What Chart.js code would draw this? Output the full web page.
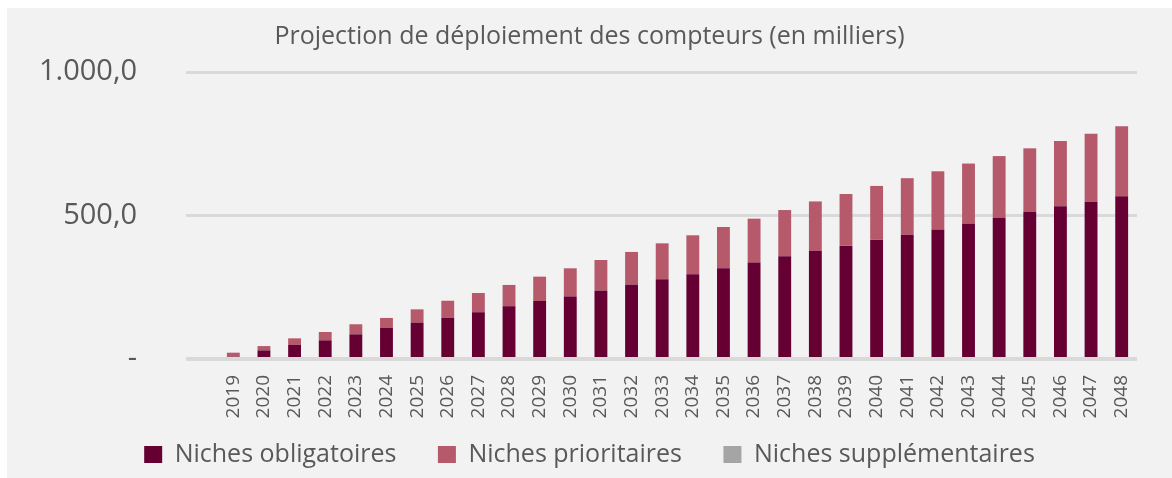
<!DOCTYPE html>
<html>
<head>
<meta charset="utf-8">
<script src="https://cdn.jsdelivr.net/npm/chart.js@4/dist/chart.umd.min.js"></script>
<style>
  html, body { margin: 0; padding: 0; background: #ffffff; overflow: hidden; }
  #wrap { position: absolute; left: 7px; top: 8px; width: 1165px; height: 470px; background: #f2f2f2; }
</style>
</head>
<body>
<div id="wrap"><canvas id="chart" width="1165" height="470"></canvas></div>
<script>
const years = ['2019','2020','2021','2022','2023','2024','2025','2026','2027','2028',
  '2029','2030','2031','2032','2033','2034','2035','2036','2037','2038',
  '2039','2040','2041','2042','2043','2044','2045','2046','2047','2048'];

// valeurs (milliers)
const obligatoires = [8, 30, 49, 65, 86, 108, 127, 143, 163, 184,
  202, 218, 239, 260, 278, 295, 316, 336, 358, 376,
  395, 415, 433, 450, 471, 492, 513, 532, 548, 567];
const prioritaires = [14, 15, 23, 29, 35, 35, 46, 60, 67, 74,
  85, 98, 106, 113, 125, 136, 144, 153, 161, 173,
  180, 188, 197, 204, 210, 215, 221, 228, 237, 244];
const supplementaires = [0, 0, 0, 0, 0, 0, 0, 0, 0, 0,
  0, 0, 0, 0, 0, 0, 0, 0, 0, 0,
  0, 0, 0, 0, 0, 0, 0, 0, 0, 0];

const yMax = 1000;
const yStep = 500;

const textColor = '#595959';
const gridColor = '#d9d9d9';

new Chart(document.getElementById('chart').getContext('2d'), {
  type: 'bar',
  data: {
    labels: years,
    datasets: [
      { label: 'Niches obligatoires', data: obligatoires, backgroundColor: '#660033' },
      { label: 'Niches prioritaires', data: prioritaires, backgroundColor: '#b5596b' },
      { label: 'Niches supplémentaires', data: supplementaires, backgroundColor: '#a5a5a5' }
    ]
  },
  options: {
    responsive: false,
    animation: false,
    layout: { padding: { left: 0, right: 0, top: 0, bottom: 1 } },
    datasets: { bar: { categoryPercentage: 1, barPercentage: 0.42 } },
    plugins: {
      title: {
        display: true,
        text: 'Projection de déploiement des compteurs (en milliers)',
        color: textColor,
        font: { family: 'Open Sans', size: 25, weight: 'normal', lineHeight: 1.2 },
        padding: { top: 14, bottom: 20 }
      },
      legend: {
        position: 'bottom',
        labels: {
          color: textColor,
          font: { family: 'Open Sans', size: 25, lineHeight: 1 },
          boxWidth: 18,
          boxHeight: 17,
          padding: 22,
          // un peu d'espace en plus entre les entrées (le padding sert aussi en hauteur)
          generateLabels(chart) {
            const items = Chart.defaults.plugins.legend.labels.generateLabels(chart);
            items.forEach((it, i) => { if (i < items.length - 1) it.text += '   '; });
            return items;
          }
        }
      },
      tooltip: { enabled: false }
    },
    scales: {
      x: {
        stacked: true,
        afterFit(scale) { scale.height = 61; },
        grid: { display: false, drawTicks: false },
        border: { display: false },
        ticks: {
          color: textColor,
          font: { family: 'Open Sans', size: 19 },
          minRotation: 90,
          maxRotation: 90,
          padding: 16
        }
      },
      y: {
        stacked: true,
        min: 0,
        max: yMax,
        afterFit(scale) { scale.width = 211; },
        border: { display: false },
        grid: {
          color: gridColor,
          lineWidth: c => (c.tick && c.tick.value === 0 ? 4 : 3),
          drawTicks: true,
          tickLength: 32
        },
        ticks: {
          stepSize: yStep,
          color: textColor,
          font: { family: 'Open Sans', size: 29, lineHeight: 1 },
          padding: 49,
          callback: v => v === 0 ? '-' : v.toLocaleString('de-DE', { minimumFractionDigits: 1, maximumFractionDigits: 1 })
        }
      },
      yRight: {
        position: 'right',
        afterFit(scale) { scale.width = 35; },
        grid: { display: false },
        border: { display: false },
        ticks: { display: false }
      }
    }
  }
});
</script>
</body>
</html>
